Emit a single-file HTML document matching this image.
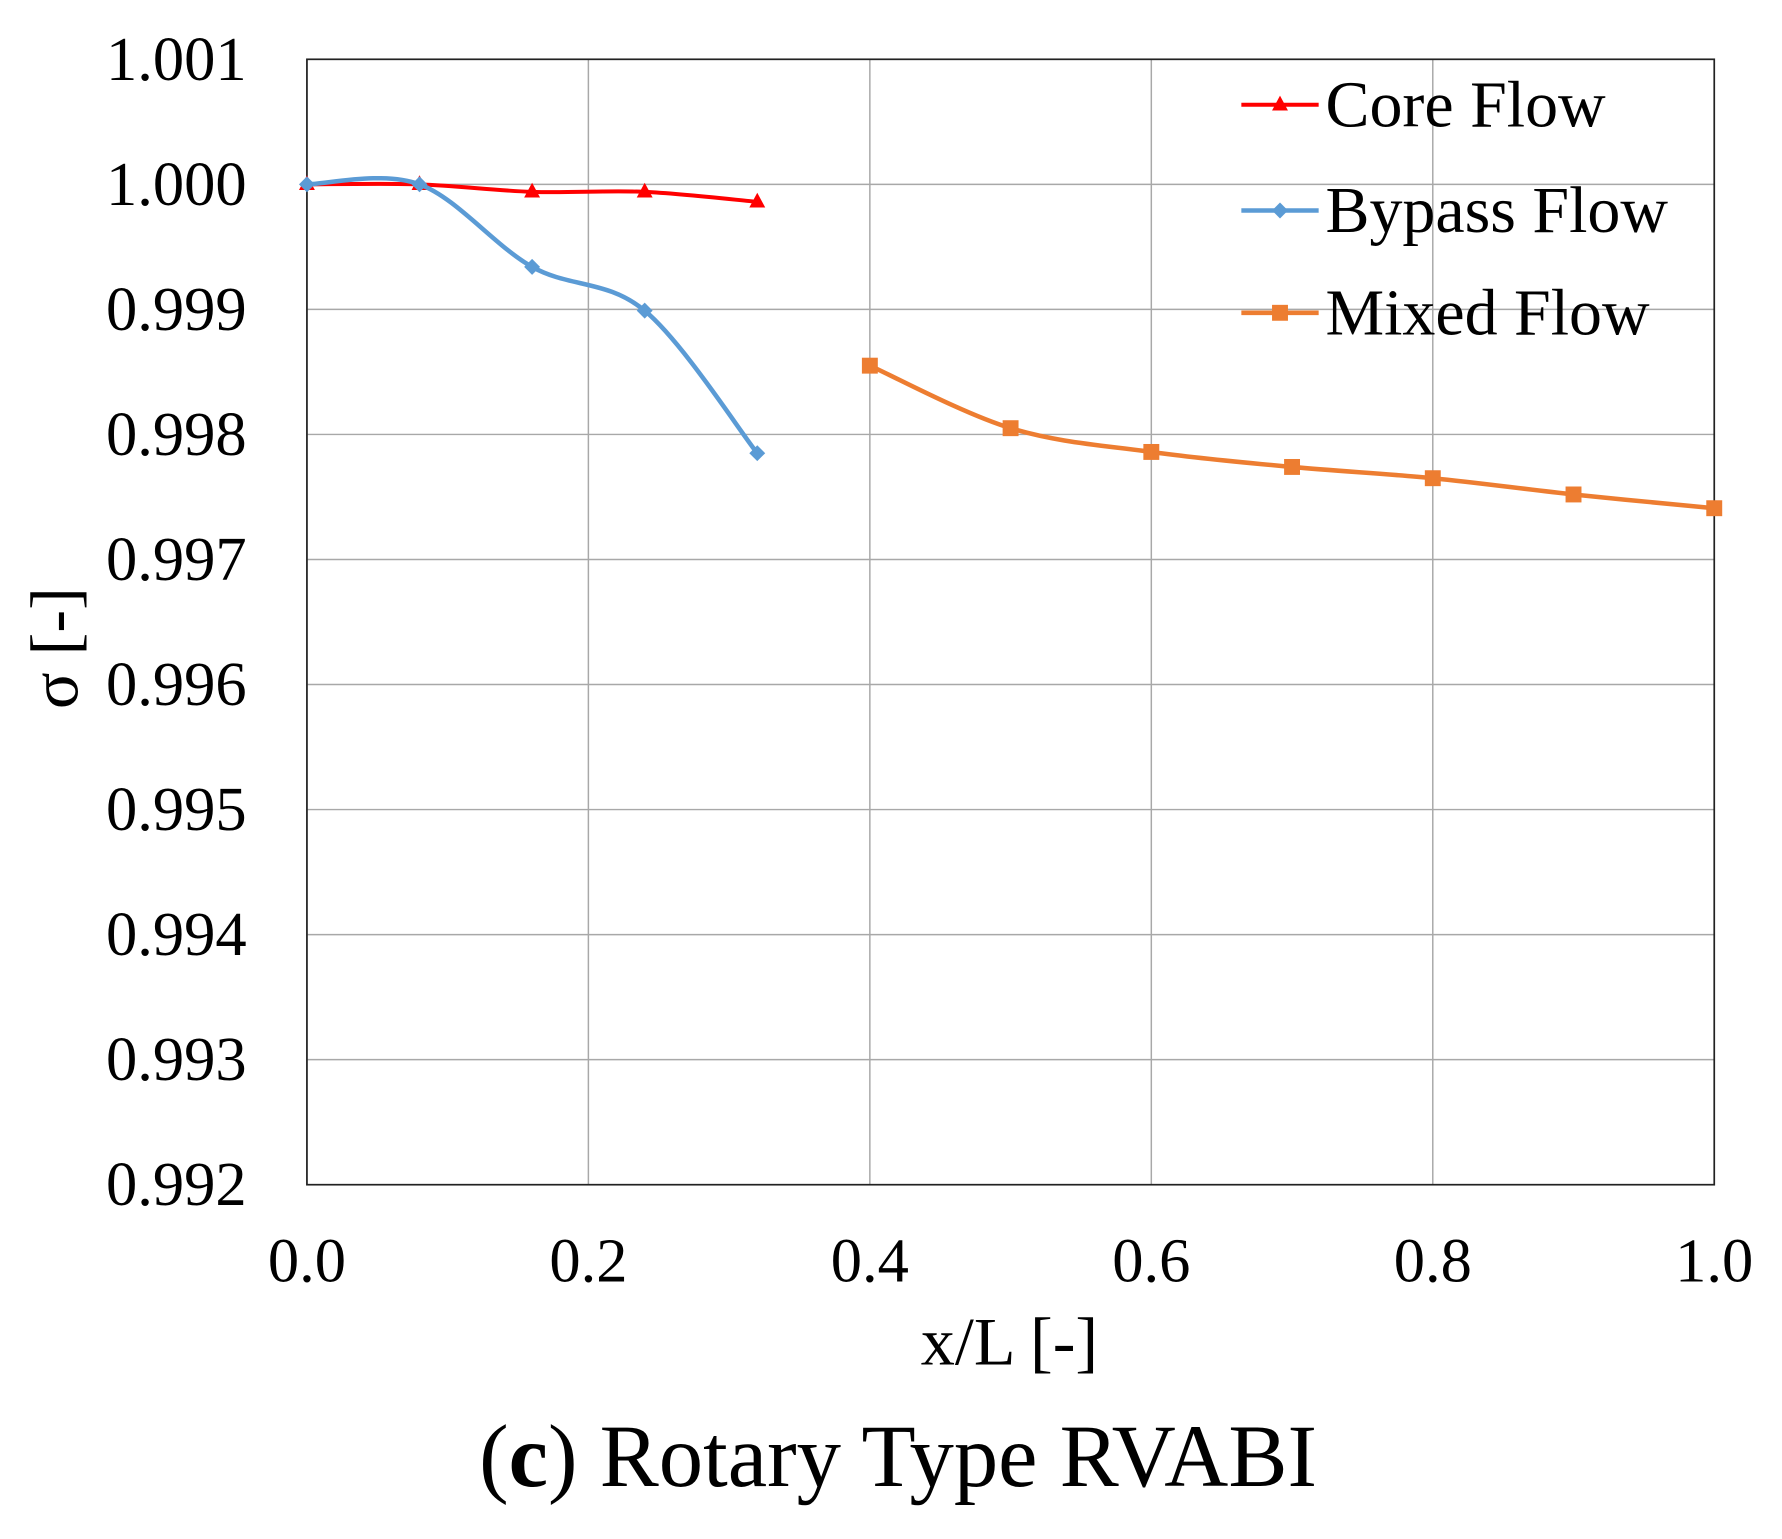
<!DOCTYPE html>
<html><head><meta charset="utf-8"><style>html,body{margin:0;padding:0;background:#fff}svg{display:block}</style></head>
<body>
<svg id="chart" width="1782" height="1539" viewBox="0 0 1567.6 1353.5" xmlns="http://www.w3.org/2000/svg" font-family="'Liberation Serif', serif">
<g id="grid"></g>
<rect x="270" y="52" width="1238" height="990" fill="none" stroke="#222" stroke-width="1.5"/>
<g id="yticks"></g>
<g id="xticks"></g>
<g id="series"></g>
<text x="888" y="1200" font-size="60" text-anchor="middle">x/L [-]</text>
<text transform="translate(68,570) rotate(-90)" font-size="60" text-anchor="middle">σ [-]</text>
<text x="790" y="1307" font-size="78" text-anchor="middle">(<tspan font-weight="bold">c</tspan>) Rotary Type RVABI</text>
<g>
 <line x1="1092" y1="92" x2="1160" y2="92" stroke="#ff0000" stroke-width="3.5"/>
 <polygon points="1126,84 1133,97 1119,97" fill="#ff0000"/>
 <text x="1166" y="111" font-size="58">Core Flow</text>
 <line x1="1092" y1="185" x2="1160" y2="185" stroke="#5b9bd5" stroke-width="4"/>
 <polygon points="1126,178 1133,185 1126,192 1119,185" fill="#5b9bd5"/>
 <text x="1166" y="204" font-size="58">Bypass Flow</text>
 <line x1="1092" y1="275" x2="1160" y2="275" stroke="#ed7d31" stroke-width="4"/>
 <rect x="1119" y="268" width="14" height="14" fill="#ed7d31"/>
 <text x="1166" y="294" font-size="58">Mixed Flow</text>
</g>
</svg>
<script>
const xTicks=[0,0.2,0.4,0.6,0.8,1.0];
const xTickLabels=["0.0","0.2","0.4","0.6","0.8","1.0"];
const yTicks=[0.992,0.993,0.994,0.995,0.996,0.997,0.998,0.999,1.000,1.001];
const yTickLabels=["0.992","0.993","0.994","0.995","0.996","0.997","0.998","0.999","1.000","1.001"];
const coreX=[0,0.08,0.16,0.24,0.32];
const coreY=[1.0000,1.0000,0.99994,0.99994,0.99986];
const bypassX=[0,0.08,0.16,0.24,0.32];
const bypassY=[1.0000,1.0000,0.99934,0.99899,0.99785];
const mixedX=[0.4,0.5,0.6,0.7,0.8,0.9,1.0];
const mixedY=[0.99855,0.99805,0.99786,0.99774,0.99765,0.99752,0.99741];
const NS="http://www.w3.org/2000/svg";
const X0=270,X1=1508,Y0=1042,Y1=52;
function sx(v){return X0+(v-0)/(1-0)*(X1-X0);}
function sy(v){return Y0-(v-0.992)/(1.001-0.992)*(Y0-Y1);}
function mk(tag,attrs,parent){const e=document.createElementNS(NS,tag);for(const k in attrs)e.setAttribute(k,attrs[k]);parent.appendChild(e);return e;}
const grid=document.getElementById('grid'),yg=document.getElementById('yticks'),xg=document.getElementById('xticks'),sg=document.getElementById('series');
yTicks.forEach((v,i)=>{
 const l=mk('line',{x1:X0,x2:X1,y1:sy(v),y2:sy(v),stroke:'#a8a8a8','stroke-width':1.3},grid);
 
 
 const t=mk('text',{x:217,y:sy(v)+18,'font-size':55,'text-anchor':'end'},yg);
 t.textContent=yTickLabels[i];
 
 
});
xTicks.forEach((v,i)=>{
 const l=mk('line',{x1:sx(v),x2:sx(v),y1:Y1,y2:Y0,stroke:'#a8a8a8','stroke-width':1.3},grid);
 
 
 const t=mk('text',{x:sx(v),y:1127,'font-size':55,'text-anchor':'middle'},xg);
 t.textContent=xTickLabels[i];
 
 
});
function smoothPath(xs,ys){
 const p=xs.map((x,i)=>[sx(x),sy(ys[i])]);
 let d='M'+p[0][0]+','+p[0][1];
 for(let i=0;i<p.length-1;i++){
  const a=p[Math.max(0,i-1)],b=p[i],c=p[i+1],e=p[Math.min(p.length-1,i+2)];
  const c1=[b[0]+(c[0]-a[0])/6,b[1]+(c[1]-a[1])/6],c2=[c[0]-(e[0]-b[0])/6,c[1]-(e[1]-b[1])/6];
  d+=' C'+c1[0]+','+c1[1]+' '+c2[0]+','+c2[1]+' '+c[0]+','+c[1];
 }
 return d;
}
function series(xs,ys,color,marker,name,w){
 const p=mk('path',{d:smoothPath(xs,ys),fill:'none',stroke:color,'stroke-width':w},sg);
 
 
 xs.forEach((x,i)=>{
  const cx=sx(x),cy=sy(ys[i]);let m;
  if(marker==='tri')m=mk('polygon',{points:`${cx},${cy-8} ${cx+7},${cy+5} ${cx-7},${cy+5}`,fill:color},sg);
  else if(marker==='dia')m=mk('polygon',{points:`${cx},${cy-7} ${cx+7},${cy} ${cx},${cy+7} ${cx-7},${cy}`,fill:color},sg);
  else m=mk('rect',{x:cx-7,y:cy-7,width:14,height:14,fill:color},sg);
  
  
 });
}
series(coreX,coreY,'#ff0000','tri','core-flow',3.5);
series(bypassX,bypassY,'#5b9bd5','dia','bypass-flow',4);
series(mixedX,mixedY,'#ed7d31','sq','mixed-flow',4);
</script>
</body></html>
